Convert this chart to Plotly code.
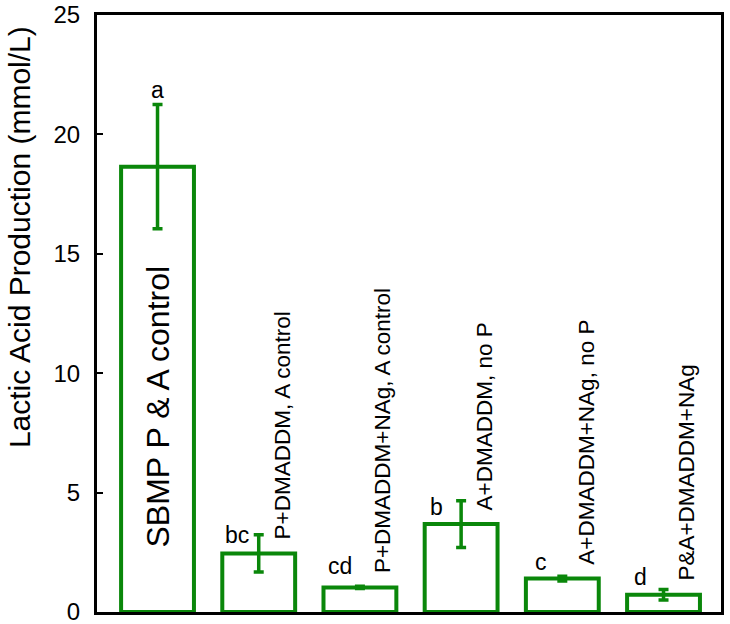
import plotly.graph_objects as go

# ---- data ----
categories = ["SBMP P & A control", "P+DMADDM, A control", "P+DMADDM+NAg, A control",
              "A+DMADDM, no P", "A+DMADDM+NAg, no P", "P&A+DMADDM+NAg"]
lactic_mean = [18.65, 2.45, 1.03, 3.68, 1.40, 0.72]
lactic_err = [2.60, 0.78, 0.05, 0.98, 0.10, 0.22]
sig_letters = ["a", "bc", "cd", "b", "c", "d"]
y_ticks = [0, 5, 10, 15, 20, 25]
y_title = "Lactic Acid Production (mmol/L)"

GREEN = "#0a870a"
FONT = "Liberation Sans, Arial, sans-serif"

xpos = list(range(len(categories)))

fig = go.Figure()
fig.add_trace(go.Bar(
    x=xpos, y=lactic_mean, width=0.72,
    marker=dict(color="white", line=dict(color=GREEN, width=4)),
    error_y=dict(type="data", array=lactic_err, visible=True,
                 color=GREEN, thickness=3.5, width=5),
    hoverinfo="skip", showlegend=False,
))

# letter annotations (pixel shifts for layout only)
letter_dx = [0, -0.21, -0.20, -0.24, -0.21, -0.23]
letter_dy = [15, 0, 20, -6, 14, 13]
for i, (lab, m, e) in enumerate(zip(sig_letters, lactic_mean, lactic_err)):
    fig.add_annotation(x=i + letter_dx[i], y=m + e, xref="x", yref="y",
                       text=lab, showarrow=False, yanchor="middle",
                       xanchor="center", yshift=letter_dy[i],
                       font=dict(family=FONT, size=23, color="black"))

# category labels, rotated
for i, (cat, m) in enumerate(zip(categories, lactic_mean)):
    if i == 0:
        fig.add_annotation(x=i, y=0, xref="x", yref="y", text=cat,
                           showarrow=False, textangle=-90,
                           xanchor="center", yanchor="bottom", yshift=62,
                           font=dict(family=FONT, size=32, color="black"))
    else:
        fig.add_annotation(x=i + 0.23, y=m, xref="x", yref="y", text=cat,
                           showarrow=False, textangle=-90,
                           xanchor="center", yanchor="bottom", yshift=12,
                           font=dict(family=FONT, size=22.5, color="black"))

# y-axis title (placed as in the reference, above the axis centre)
fig.add_annotation(x=0, y=0.628, xref="paper", yref="paper", text=y_title,
                   showarrow=False, textangle=-90, xanchor="center",
                   yanchor="middle", xshift=-78,
                   font=dict(family=FONT, size=30, color="black"))

fig.update_layout(
    width=730, height=624,
    margin=dict(l=97, r=9, t=15, b=12, autoexpand=False),
    plot_bgcolor="white", paper_bgcolor="white",
    font=dict(family=FONT, color="black"),
)
fig.update_xaxes(range=[-0.598, 5.568], showticklabels=False, ticks="",
                 showgrid=False, zeroline=False, showline=True,
                 linecolor="black", linewidth=3, mirror=True, automargin=False)
fig.update_yaxes(range=[0, 25], tickvals=y_ticks, ticks="inside", ticklen=6,
                 tickwidth=2, tickcolor="black", showgrid=False, zeroline=False,
                 showline=True, linecolor="black", linewidth=3, mirror=True,
                 automargin=False, ticklabeloverflow="allow",
                 ticklabelstandoff=9,
                 tickfont=dict(family=FONT, size=24, color="black"))

fig.write_html("out.html", config={"displayModeBar": False},
               post_script="document.body.style.margin='0';document.body.style.overflow='hidden';")
